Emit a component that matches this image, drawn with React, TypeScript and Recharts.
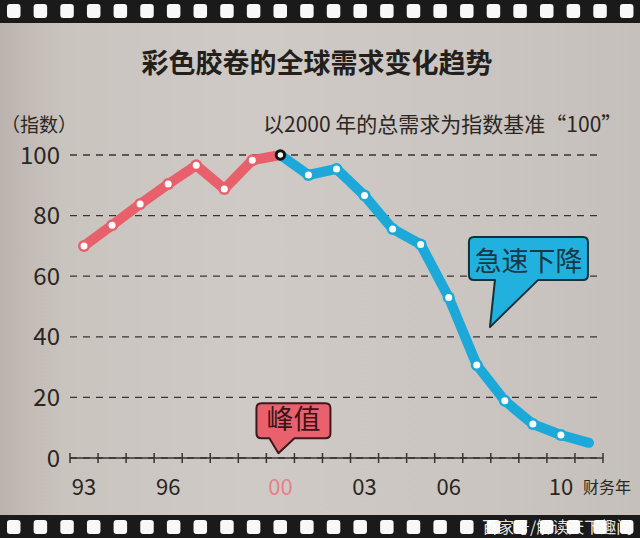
import { CartesianGrid, Line, LineChart, ReferenceDot, XAxis, YAxis } from "recharts";

// fiscal years on the x axis
const years = [1993, 1994, 1995, 1996, 1997, 1998, 1999, 2000, 2001, 2002, 2003, 2004, 2005, 2006, 2007, 2008, 2009, 2010, 2011];
// index (2000 = 100), rising part up to the peak
const riseValues = [70, 76.8, 83.8, 90.4, 96.6, 88.8, 98.3, 100];
// index from the peak onward
const fallValues = [100, 93.4, 95.4, 86.6, 75.6, 70.5, 53, 30.7, 18.9, 11.2, 7.6, 5];
const labelYears = [1993, 1996, 2000, 2003, 2006, 2010];
const labelTexts = ["93", "96", "00", "03", "06", "10"];
const yTicks = [0, 20, 40, 60, 80, 100];

const RED = "#e8606b";
const BLUE = "#1ca9d9";
const INK = "#2b2622";
const PEAK_YEAR = 2000;
const LAST_YEAR = years[years.length - 1];

const fallStart = years.length - fallValues.length;
const data = years.map((year, i) => ({
  year,
  rise: i < riseValues.length ? riseValues[i] : null,
  fall: i >= fallStart ? fallValues[i - fallStart] : null,
}));

// tick marks sit between the years, labels sit on the years
const bounds = [...years.map((y) => y - 0.5), LAST_YEAR + 0.5];
const xTicks = [...bounds, ...labelYears].sort((a, b) => a - b);

const FONT = "'Noto Sans CJK SC', 'Noto Sans', sans-serif";

function XTick({ x, y, payload }: any) {
  const v = payload.value;
  if (!Number.isInteger(v)) {
    return (
      <g>
        <line x1={x} x2={x} y1={y - 5} y2={y + 5} stroke="#3a3430" strokeWidth={1.5} />
        {v === LAST_YEAR + 0.5 && (
          <text x={x - 20} y={y + 35} fontSize={16} fill={INK}>
            财务年
          </text>
        )}
      </g>
    );
  }
  const i = labelYears.indexOf(v);
  return (
    <text x={x} y={y + 37} textAnchor="middle" fontSize={22} fill={v === PEAK_YEAR ? "#e6808a" : INK}>
      {labelTexts[i]}
    </text>
  );
}

function riseDot({ cx, cy, index, payload }: any) {
  if (cy == null || payload.rise == null || payload.year === PEAK_YEAR) return <g key={`r${index}`} />;
  return (
    <g key={`r${index}`}>
      <circle cx={cx} cy={cy} r={6} fill={RED} />
      <circle cx={cx} cy={cy} r={3.5} fill="#fff" />
    </g>
  );
}

function fallDot({ cx, cy, index, payload }: any) {
  if (cy == null || payload.fall == null || payload.year === LAST_YEAR) return <g key={`f${index}`} />;
  if (payload.year === PEAK_YEAR)
    return <circle key={`f${index}`} cx={cx} cy={cy} r={4.2} fill="#fff" stroke="#111" strokeWidth={3} />;
  return (
    <g key={`f${index}`}>
      <circle cx={cx} cy={cy} r={6} fill={BLUE} />
      <circle cx={cx} cy={cy} r={3.5} fill="#fff" />
    </g>
  );
}

// speech bubble whose tail tip is at (cx, cy)
function bubble(
  cx: number,
  cy: number,
  box: { l: number; r: number; t: number; b: number; t1: number; t2: number },
  fill: string,
  stroke: string,
  color: string,
  text: string
) {
  const L = cx + box.l, R = cx + box.r, T = cy + box.t, B = cy + box.b, rr = 5;
  const d = `M${L + rr},${T} H${R - rr} Q${R},${T} ${R},${T + rr} V${B - rr} Q${R},${B} ${R - rr},${B} H${cx + box.t2} L${cx},${cy} L${cx + box.t1},${B} H${L + rr} Q${L},${B} ${L},${B - rr} V${T + rr} Q${L},${T} ${L + rr},${T} Z`;
  return (
    <g>
      <path d={d} fill={fill} stroke={stroke} strokeWidth={2} strokeLinejoin="round" />
      <text x={(L + R) / 2} y={B - 9} textAnchor="middle" fontSize={27} fill={color} fontFamily={FONT}>
        {text}
      </text>
    </g>
  );
}

const holes = Array.from({ length: 24 }, (_, i) => i);

export default function App() {
  return (
    <div
      style={{
        position: "absolute",
        left: 0,
        top: 0,
        width: 640,
        height: 538,
        fontFamily: FONT,
        background: "linear-gradient(90deg, #bbb4ae 0%, #cac4bf 10%, #cfcac6 40%, #cac5c0 75%, #c5c0bb 100%)",
        overflow: "hidden",
      }}
    >
      <LineChart width={640} height={538} data={data} margin={{ top: 155, right: 37, bottom: 0, left: 10 }}>
        <CartesianGrid vertical={false} stroke="#3a3430" strokeDasharray="7 6" strokeWidth={1.3} />
        <XAxis
          dataKey="year"
          type="number"
          domain={[years[0] - 0.5, LAST_YEAR + 0.5]}
          ticks={xTicks}
          interval={0}
          height={80}
          tickSize={0}
          tickMargin={0}
          tickLine={false}
          axisLine={{ stroke: "#3a3430", strokeWidth: 1.5 }}
          tick={<XTick />}
        />
        <YAxis
          type="number"
          domain={[0, 100]}
          ticks={yTicks}
          width={60}
          axisLine={false}
          tickLine={false}
          tickMargin={4}
          tick={{ fill: INK, fontSize: 24 }}
        />
        <Line
          type="linear"
          dataKey="rise"
          stroke={RED}
          strokeWidth={10}
          strokeLinecap="round"
          strokeLinejoin="round"
          dot={riseDot}
          activeDot={false}
          isAnimationActive={false}
        />
        <Line
          type="linear"
          dataKey="fall"
          stroke={BLUE}
          strokeWidth={10}
          strokeLinecap="round"
          strokeLinejoin="round"
          dot={fallDot}
          activeDot={false}
          isAnimationActive={false}
        />
        <ReferenceDot
          x={2007.47}
          y={43.2}
          r={1}
          ifOverflow="visible"
          shape={(p: any) =>
            bubble(p.cx, p.cy, { l: -21, r: 98, t: -90, b: -47, t1: 5, t2: 48 }, "#22b1df", "#14303a", "#173844", "急速下降")
          }
        />
        <ReferenceDot
          x={1999.93}
          y={1.6}
          r={1}
          ifOverflow="visible"
          shape={(p: any) =>
            bubble(p.cx, p.cy, { l: -22, r: 52, t: -50, b: -15, t1: -9, t2: 16 }, "#e9616d", "#3a1a1c", "#3b1418", "峰值")
          }
        />
      </LineChart>
      <svg
        width={640}
        height={538}
        style={{ position: "absolute", left: 0, top: 0, pointerEvents: "none" }}
        fontFamily={FONT}
      >
        <rect x={0} y={0} width={640} height={23} fill="#1b1a1a" />
        <rect x={0} y={515} width={640} height={23} fill="#1b1a1a" />
        {holes.map((i) => (
          <g key={i}>
            <rect x={7 + i * 26.65} y={4} width={13.5} height={14} rx={3} fill="#f8f8f8" />
            <rect x={7 + i * 26.65} y={520} width={13.5} height={14} rx={3} fill="#f8f8f8" />
          </g>
        ))}
        <text x={317} y={73} textAnchor="middle" fontSize={27} fontWeight={700} fill="#231f1c">
          彩色胶卷的全球需求变化趋势
        </text>
        <text x={1} y={132} fontSize={19} fill={INK}>
          （指数）
        </text>
        <text x={263} y={132} fontSize={21} fill={INK}>
          以2000 年的总需求为指数基准“100”
        </text>
        <text x={482} y={533} fontSize={16} fill="#ffffff" fillOpacity={0.9}>
          百家号/解读天下趣闻
        </text>
      </svg>
    </div>
  );
}
